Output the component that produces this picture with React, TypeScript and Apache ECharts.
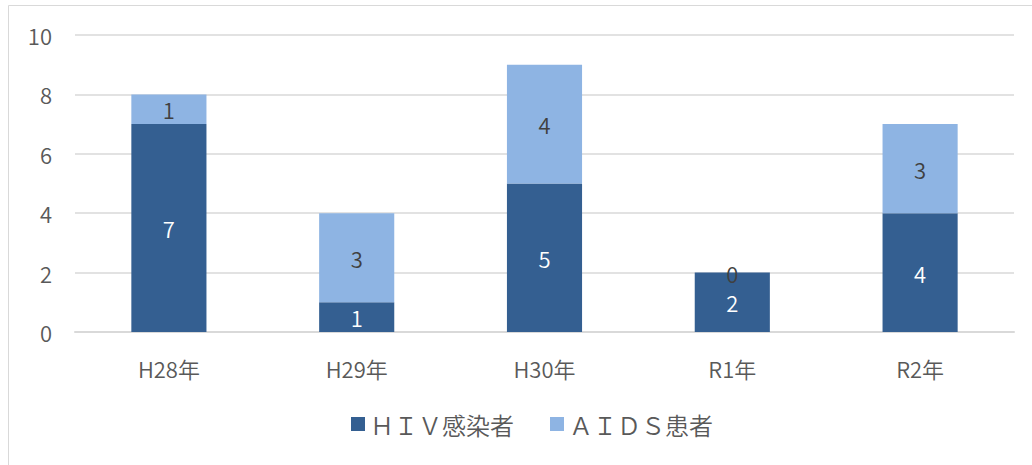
import React, { useEffect, useRef } from "react";
import * as echarts from "echarts";

const categories = ["H28年", "H29年", "H30年", "R1年", "R2年"];
const hivValues = [7, 1, 5, 2, 4];
const aidsValues = [1, 3, 4, 0, 3];
const seriesNames = ["ＨＩＶ感染者", "ＡＩＤＳ患者"];

const FONT = "'Noto Sans CJK JP', 'Noto Sans', sans-serif";

export default function App() {
  const ref = useRef<HTMLDivElement>(null);
  useEffect(() => {
    if (!ref.current) return;
    const chart = echarts.init(ref.current, null, { renderer: "svg" });
    chart.setOption({
      animation: false,
      textStyle: { fontFamily: FONT },
      graphic: [
        {
          type: "rect",
          shape: { x: 8.5, y: 5.5, width: 1100, height: 1000 },
          style: { fill: "none", stroke: "#D9D9D9", lineWidth: 1 },
          silent: true,
        },
      ],
      grid: { left: 75, right: 18, top: 35, bottom: 133, containLabel: false },
      legend: {
        bottom: 24,
        left: 346,
        itemWidth: 14,
        itemHeight: 14,
        itemGap: 36,
        icon: "rect",
        textStyle: { fontSize: 24, color: "#595959", fontFamily: FONT, fontWeight: 350 },
        data: seriesNames,
      },
      xAxis: {
        type: "category",
        data: categories,
        axisLine: { lineStyle: { color: "#D9D9D9", width: 2 } },
        axisTick: { show: false },
        axisLabel: { fontSize: 22, color: "#595959", margin: 25, fontFamily: FONT, fontWeight: 350 },
      },
      yAxis: {
        type: "value",
        min: 0,
        max: 10,
        interval: 2,
        axisLine: { show: false },
        axisTick: { show: false },
        splitLine: { lineStyle: { color: "#D9D9D9", width: 1.5 } },
        axisLabel: { fontSize: 22, color: "#595959", margin: 23, fontFamily: FONT, fontWeight: 350 },
      },
      series: [
        {
          name: seriesNames[0],
          type: "bar",
          stack: "total",
          barWidth: "40%",
          data: hivValues,
          itemStyle: { color: "#345F91" },
          label: {
            show: true,
            position: "inside",
            color: "#FFFFFF",
            fontSize: 22,
            fontFamily: FONT,
            fontWeight: 350,
          },
        },
        {
          name: seriesNames[1],
          type: "bar",
          stack: "total",
          barWidth: "40%",
          data: aidsValues,
          itemStyle: { color: "#8EB4E3" },
          label: {
            show: true,
            position: "inside",
            color: "#404040",
            fontSize: 22,
            fontFamily: FONT,
            fontWeight: 350,
          },
        },
      ],
    });
    return () => chart.dispose();
  }, []);
  return (
    <div
      ref={ref}
      style={{ position: "absolute", left: 0, top: 0, width: 1032, height: 465 }}
    />
  );
}
